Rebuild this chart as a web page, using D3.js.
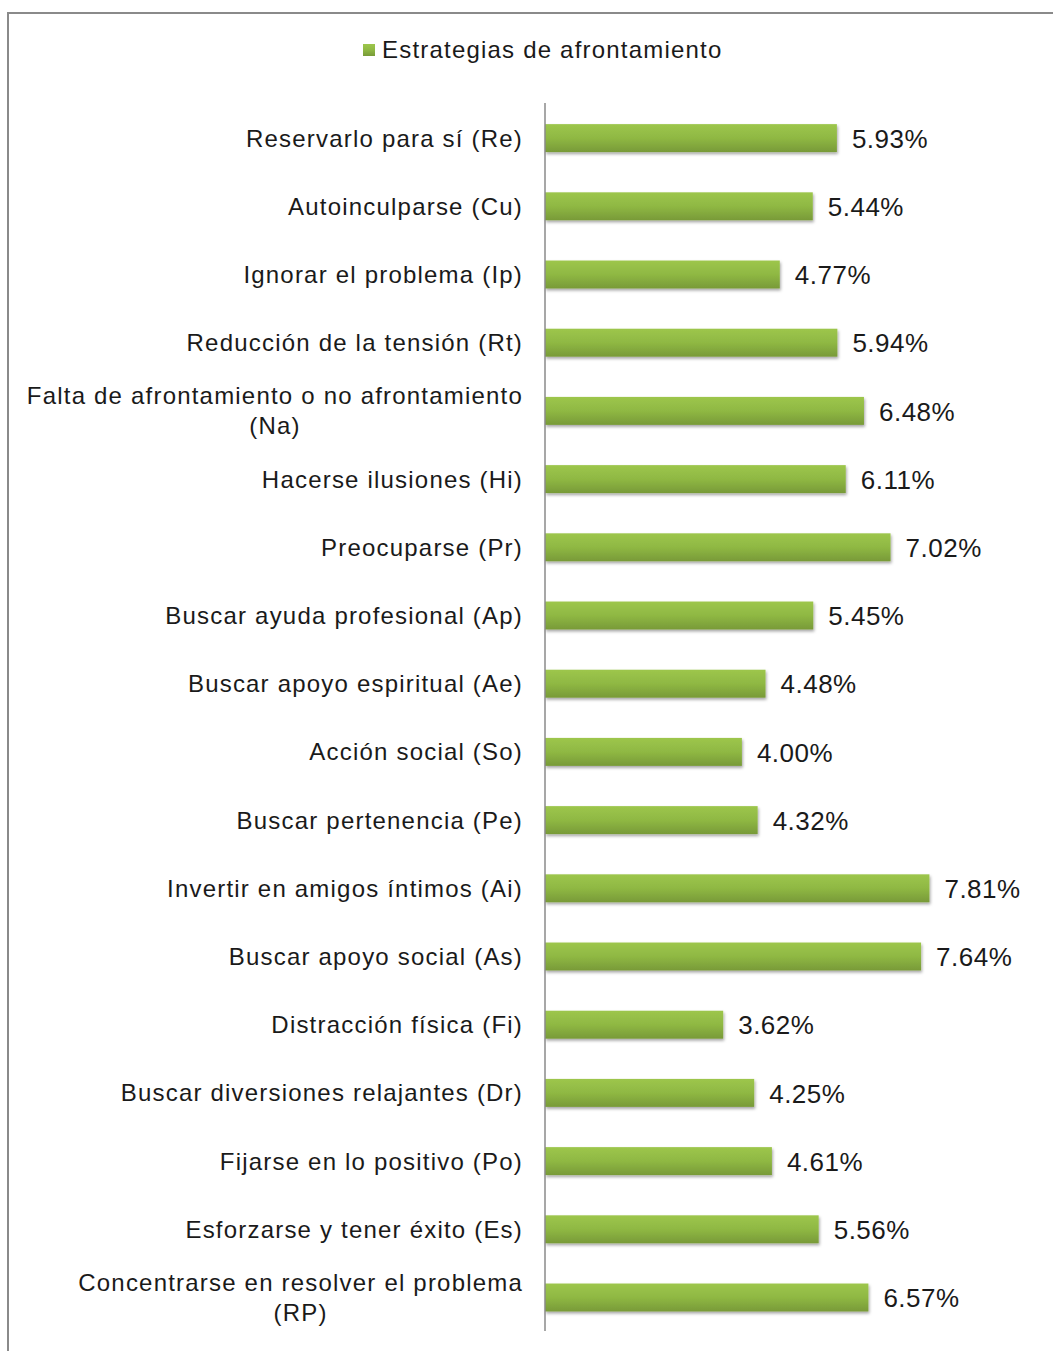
<!DOCTYPE html>
<html>
<head>
<meta charset="utf-8">
<script src="https://cdn.jsdelivr.net/npm/d3@7"></script>
<style>
  body { margin: 0; background: #fff; }
  svg text { font-family: "Liberation Sans", Arial, sans-serif; fill: #1a1a1a; }
</style>
</head>
<body>
<div id="chart"></div>
<script>
const categories = [
    "Reservarlo para sí (Re)",
    "Autoinculparse (Cu)",
    "Ignorar el problema (Ip)",
    "Reducción de la tensión (Rt)",
    "Falta de afrontamiento o no afrontamiento|(Na)",
    "Hacerse ilusiones (Hi)",
    "Preocuparse (Pr)",
    "Buscar ayuda profesional (Ap)",
    "Buscar apoyo espiritual (Ae)",
    "Acción social (So)",
    "Buscar pertenencia (Pe)",
    "Invertir en amigos íntimos (Ai)",
    "Buscar apoyo social (As)",
    "Distracción física (Fi)",
    "Buscar diversiones relajantes (Dr)",
    "Fijarse en lo positivo (Po)",
    "Esforzarse y tener éxito (Es)",
    "Concentrarse en resolver el problema|(RP)"
];
const values = [5.93, 5.44, 4.77, 5.94, 6.48, 6.11, 7.02, 5.45, 4.48, 4.00, 4.32, 7.81, 7.64, 3.62, 4.25, 4.61, 5.56, 6.57];
const seriesName = "Estrategias de afrontamiento";

const width = 1054, height = 1351;

const svg = d3.select("#chart")
    .append("svg")
    .attr("width", width)
    .attr("height", height);

// gradient + shadow for bars
const defs = svg.append("defs");
const grad = defs.append("linearGradient")
    .attr("id", "barGrad")
    .attr("x1", 0).attr("y1", 0).attr("x2", 0).attr("y2", 1);
grad.append("stop").attr("offset", "0%").attr("stop-color", "#9dc64c");
grad.append("stop").attr("offset", "50%").attr("stop-color", "#8fb843");
grad.append("stop").attr("offset", "100%").attr("stop-color", "#789a38");

const shadow = defs.append("filter")
    .attr("id", "shadow")
    .attr("x", "-5%").attr("y", "-30%").attr("width", "110%").attr("height", "180%");
shadow.append("feDropShadow")
    .attr("dx", 1).attr("dy", 2)
    .attr("stdDeviation", 1.5)
    .attr("flood-color", "#000")
    .attr("flood-opacity", 0.35);

// frame (top and left only)
svg.append("path")
    .attr("d", "M8,1351 V13 H1053")
    .attr("fill", "none")
    .attr("stroke", "#8a8a8a")
    .attr("stroke-width", 2);

// scales
const x = d3.scaleLinear()
    .domain([0, 9])
    .range([545, 988]);

const y = d3.scaleBand()
    .domain(categories)
    .range([104, 1331.6])
    .paddingInner(0.59)
    .paddingOuter(0.295);

// legend
const legend = svg.append("g").attr("transform", "translate(363,44)");
legend.append("rect")
    .attr("width", 12).attr("height", 12)
    .attr("fill", "url(#barGrad)");
legend.append("text")
    .attr("x", 19)
    .attr("y", 6)
    .attr("dy", "0.35em")
    .style("font-size", "24px")
    .style("letter-spacing", "1.2px")
    .text(seriesName);

// bars
svg.selectAll(".bar")
    .data(values)
    .enter().append("rect")
    .attr("class", "bar")
    .attr("x", x(0))
    .attr("y", (d, i) => y(categories[i]))
    .attr("width", d => x(d) - x(0))
    .attr("height", y.bandwidth())
    .attr("fill", "url(#barGrad)")
    .attr("filter", "url(#shadow)");

// axis line
svg.append("line")
    .attr("x1", x(0)).attr("x2", x(0))
    .attr("y1", 103).attr("y2", 1331)
    .attr("stroke", "#8a8a8a")
    .attr("stroke-width", 1.5);

// value labels
svg.selectAll(".val")
    .data(values)
    .enter().append("text")
    .attr("class", "val")
    .attr("x", d => x(d) + 15)
    .attr("y", (d, i) => y(categories[i]) + y.bandwidth() / 2 + 0.5)
    .attr("dy", "0.35em")
    .style("font-size", "26px")
    .style("letter-spacing", "0.5px")
    .text(d => d.toFixed(2) + "%");

// category labels
const labels = svg.selectAll(".cat")
    .data(categories)
    .enter().append("text")
    .attr("class", "cat")
    .style("font-size", "24px")
    .style("letter-spacing", "1.2px")
    .attr("text-anchor", "end");

labels.each(function (d) {
    const t = d3.select(this);
    const cy = y(d) + y.bandwidth() / 2;
    const lines = d.split("|");
    if (lines.length === 1) {
        t.append("tspan")
            .attr("x", 523)
            .attr("y", cy)
            .attr("dy", "0.35em")
            .text(lines[0]);
    } else {
        const first = t.append("tspan")
            .attr("x", 523)
            .attr("y", cy - 15)
            .attr("dy", "0.35em")
            .text(lines[0]);
        const w = first.node().getComputedTextLength();
        t.append("tspan")
            .attr("x", 523 - w / 2)
            .attr("y", cy + 15)
            .attr("dy", "0.35em")
            .attr("text-anchor", "middle")
            .text(lines[1]);
    }
});
</script>
</body>
</html>
